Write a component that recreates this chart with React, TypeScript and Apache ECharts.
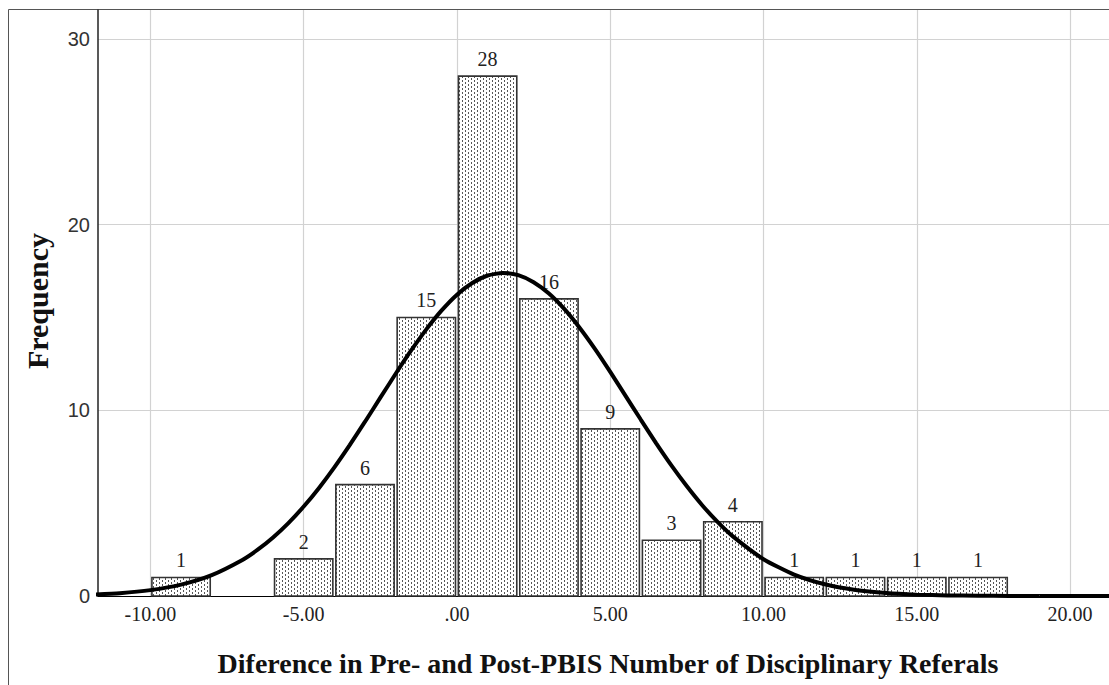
import React, { useEffect, useRef } from "react";
import * as echarts from "echarts";

// ---- data ----
const binStarts = [-10, -8, -6, -4, -2, 0, 2, 4, 6, 8, 10, 12, 14, 16];
const binWidth = 2;
const counts = [1, 0, 2, 6, 15, 28, 16, 9, 3, 4, 1, 1, 1, 1];

// normal curve
const curveX = [-12, -11, -10, -9, -8, -7, -6.5, -6, -5.5, -5, -4.5, -4, -3.5, -3, -2.5, -2, -1.5, -1, -0.5, 0, 0.5, 1, 1.5, 2, 2.5, 3, 3.5, 4, 4.5, 5, 5.5, 6, 6.5, 7, 7.5, 8, 8.5, 9, 10, 11, 12, 13, 14, 15, 16, 17, 18, 19, 20, 21, 22];
const curveY = [0.07, 0.153, 0.316, 0.614, 1.126, 1.942, 2.493, 3.153, 3.927, 4.818, 5.822, 6.93, 8.126, 9.387, 10.68, 11.97, 13.21, 14.36, 15.38, 16.23, 16.86, 17.26, 17.4, 17.28, 16.9, 16.29, 15.46, 14.45, 13.31, 12.07, 10.78, 9.49, 8.22, 7.02, 5.91, 4.89, 3.99, 3.21, 1.98, 1.152, 0.63, 0.325, 0.158, 0.072, 0.031, 0.0125, 0.0048, 0.0017, 0.0006, 0.0002, 0];

const xTicks = [-10, -5, 0, 5, 10, 15, 20];
const yTicks = [0, 10, 20, 30];

const xTitle = "Diference in Pre- and Post-PBIS Number of Disciplinary Referals";
const yTitle = "Frequency";

function makePattern() {
  const c = document.createElement("canvas");
  c.width = 6;
  c.height = 4;
  const ctx = c.getContext("2d")!;
  ctx.fillStyle = "#ffffff";
  ctx.fillRect(0, 0, 6, 4);
  ctx.fillStyle = "#555555";
  ctx.fillRect(0, 0, 1, 2);
  ctx.fillRect(3, 2, 1, 2);
  return { image: c.toDataURL(), repeat: "repeat", imageWidth: 6, imageHeight: 4 };
}

export default function App() {
  const ref = useRef<HTMLDivElement>(null);
  useEffect(() => {
    document.body.style.margin = "0";
    const chart = echarts.init(ref.current!, null, { renderer: "svg" });
    const pattern = makePattern();
    const barData = binStarts.map((s, i) => [s, s + binWidth, counts[i]]);
    const serif = '"Liberation Serif", "Times New Roman", serif';
    chart.setOption({
      animation: false,
      backgroundColor: "#ffffff",
      grid: { left: 98, top: 10, right: 0, bottom: 89, containLabel: false },
      xAxis: {
        type: "value",
        min: -11.71,
        max: 21.27,
        axisLine: { show: true, onZero: false, lineStyle: { color: "#000", width: 1 } },
        axisTick: { show: false, customValues: xTicks },
        axisLabel: {
          customValues: xTicks,
          formatter: (v: number) => (v === 0 ? ".00" : v.toFixed(2)),
          fontFamily: serif,
          fontSize: 20,
          color: "#222",
          margin: 8,
        },
        splitLine: { show: true, lineStyle: { color: "#d2d2d2", width: 1.2 } },
      },
      yAxis: {
        type: "value",
        min: 0,
        max: 31.56,
        axisLine: { show: true, onZero: false, lineStyle: { color: "#222", width: 1.5 } },
        axisTick: { show: false, customValues: yTicks },
        axisLabel: {
          customValues: yTicks,
          fontFamily: '"Liberation Sans", Arial, sans-serif',
          fontSize: 20,
          color: "#333",
          margin: 8,
        },
        splitLine: { show: true, lineStyle: { color: "#d2d2d2", width: 1.2 } },
      },
      series: [
        {
          type: "custom",
          z: 2,
          data: barData,
          renderItem: (params: any, api: any) => {
            const v = api.value(2);
            if (!v) return null;
            const p0 = api.coord([api.value(0), v]);
            const p1 = api.coord([api.value(1), 0]);
            const x = p0[0] + 1.5;
            const w = p1[0] - p0[0] - 3;
            return {
              type: "group",
              children: [
                {
                  type: "rect",
                  shape: { x, y: p0[1], width: w, height: p1[1] - p0[1] },
                  style: { fill: pattern, stroke: "#333", lineWidth: 1.6 },
                },
                {
                  type: "text",
                  style: {
                    text: String(v),
                    x: (p0[0] + p1[0]) / 2,
                    y: p0[1] - 17,
                    align: "center",
                    verticalAlign: "middle",
                    font: `20px ${serif}`,
                    fill: "#222",
                  },
                },
              ],
            };
          },
        },
        {
          type: "line",
          z: 5,
          data: curveX.map((x, i) => [x, curveY[i]]),
          smooth: 0.2,
          showSymbol: false,
          symbol: "none",
          clip: true,
          lineStyle: { color: "#000", width: 4 },
        },
      ],
      graphic: [
        {
          type: "rect",
          silent: true,
          z: -10,
          shape: { x: 8.5, y: 9.5, width: 1300, height: 900 },
          style: { fill: "none", stroke: "#555", lineWidth: 1 },
        },
        {
          type: "text",
          silent: true,
          x: 608,
          y: 663,
          style: {
            text: xTitle,
            align: "center",
            verticalAlign: "middle",
            font: `bold 28px ${serif}`,
            fill: "#111",
          },
        },
        {
          type: "text",
          silent: true,
          x: 37,
          y: 301,
          rotation: Math.PI / 2,
          style: {
            text: yTitle,
            align: "center",
            verticalAlign: "middle",
            font: `bold 30px ${serif}`,
            fill: "#111",
          },
        },
      ],
    });
    return () => chart.dispose();
  }, []);
  return <div ref={ref} style={{ width: 1109, height: 685 }} />;
}
